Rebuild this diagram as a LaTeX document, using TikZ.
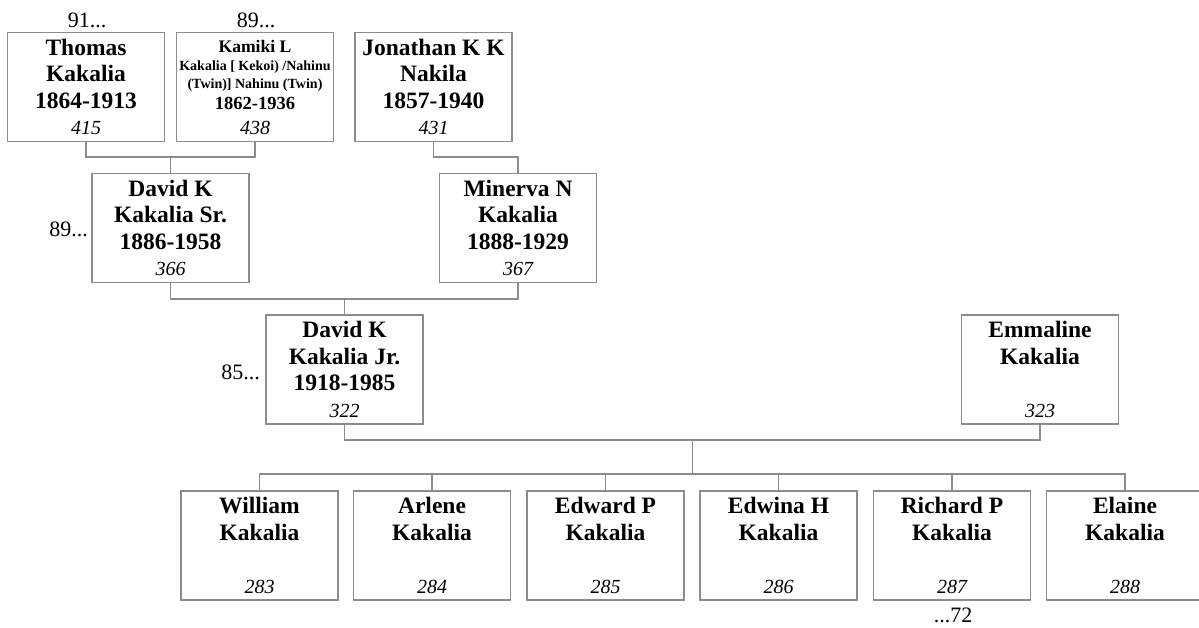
\documentclass[tikz,border=0pt]{standalone}
\usepackage{fontspec}
\setmainfont{Liberation Serif}
\definecolor{boxgray}{RGB}{140,140,140}
\newcommand\pnum[1]{{\fontsize{20}{26.5}\selectfont\mdseries\itshape #1}}
\begin{document}
\begin{tikzpicture}[x=1pt,y=-1pt,
  person/.style={draw=boxgray, line width=1.2pt, fill=white, minimum width=157pt, minimum height=109pt, inner sep=0pt, align=center, font=\bfseries\fontsize{23.5}{26.5}\selectfont},
  conn/.style={draw=boxgray, line width=1.2pt},
  note/.style={font=\fontsize{22}{24}\selectfont, inner sep=0pt}]
\useasboundingbox (0,0) rectangle (1199,628);
% generation 1
\node[person] (thomas) at (86,87) {Thomas\\Kakalia\\1864-1913\\\pnum{415}};
\node[person, font=\bfseries\fontsize{14}{18}\selectfont] (kamiki) at (255,87) {{\fontsize{17.6}{18}\selectfont Kamiki L}\\Kakalia [ Kekoi) /Nahinu\\(Twin)] Nahinu (Twin)\\[3pt]{\fontsize{18.5}{18}\selectfont 1862-1936}\\[7pt]\pnum{438}};
\node[person] (jonathan) at (433.5,87) {Jonathan K K\\Nakila\\1857-1940\\\pnum{431}};
% generation 2
\node[person] (davidsr) at (170.5,228) {David K\\Kakalia Sr.\\1886-1958\\\pnum{366}};
\node[person] (minerva) at (518,228) {Minerva N\\Kakalia\\1888-1929\\\pnum{367}};
% generation 3
\node[person] (davidjr) at (344.5,369.5) {David K\\Kakalia Jr.\\1918-1985\\\pnum{322}};
\node[person] (emmaline) at (1040,369.5) {Emmaline\\Kakalia\\[26.5pt]\pnum{323}};
% generation 4
\node[person] (william) at (259.5,545.5) {William\\Kakalia\\[26.5pt]\pnum{283}};
\node[person] (arlene) at (432,545.5) {Arlene\\Kakalia\\[26.5pt]\pnum{284}};
\node[person] (edward) at (605.5,545.5) {Edward P\\Kakalia\\[26.5pt]\pnum{285}};
\node[person] (edwina) at (778.5,545.5) {Edwina H\\Kakalia\\[26.5pt]\pnum{286}};
\node[person] (richard) at (952,545.5) {Richard P\\Kakalia\\[26.5pt]\pnum{287}};
\node[person] (elaine) at (1125,545.5) {Elaine\\Kakalia\\[26.5pt]\pnum{288}};
% connectors
\coordinate (tk) at (170.5,157);
\draw[conn] (thomas.south) |- (tk) -| (kamiki.south);
\draw[conn] (tk) -- (davidsr.north);
\coordinate (jm) at (518,157);
\draw[conn] (jonathan.south) |- (jm) -- (minerva.north);
\coordinate (dm) at (344.5,299);
\draw[conn] (davidsr.south) |- (dm) -| (minerva.south);
\draw[conn] (dm) -- (davidjr.north);
\coordinate (de) at (692.5,440);
\draw[conn] (davidjr.south) |- (de) -| (emmaline.south);
\coordinate (kids) at (692.5,474);
\draw[conn] (de) -- (kids);
\draw[conn] (william.north) |- (kids) -| (elaine.north);
\foreach \c in {arlene,edward,edwina,richard} \draw[conn] (\c.north) -- ++(0,-17);
% notes
\node[note, anchor=base] (n91) at (87,28) {91...};
\node[note, anchor=base] (n89a) at (256,28) {89...};
\node[note, anchor=base east] (n89b) at (88,237) {89...};
\node[note, anchor=base east] (n85) at (260,379) {85...};
\node[note, anchor=base] (n72) at (953,622) {...72};
\end{tikzpicture}
\end{document}
